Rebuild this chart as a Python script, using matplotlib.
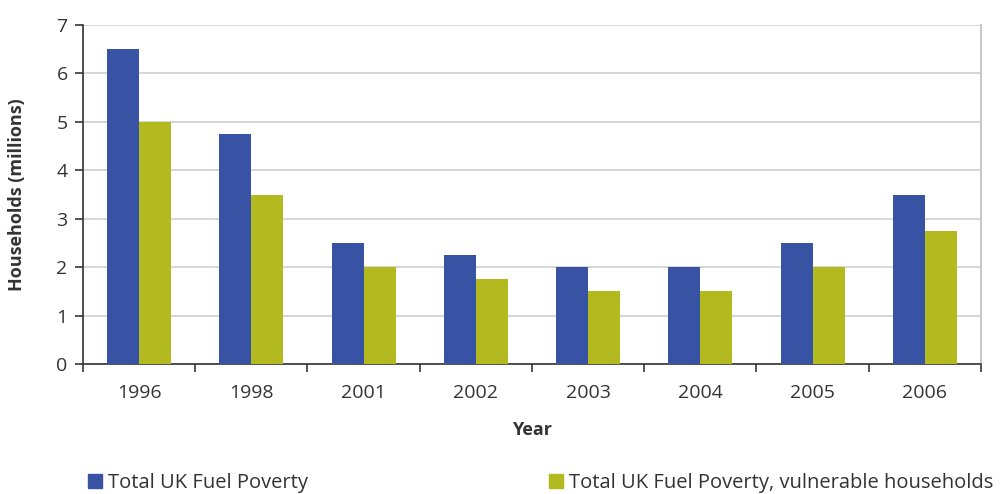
import numpy as np
import matplotlib
matplotlib.use('Agg')
import matplotlib.pyplot as plt
from matplotlib.patches import Patch

plt.rcParams['font.family'] = ['Open Sans', 'DejaVu Sans']

# Data
years = ['1996', '1998', '2001', '2002', '2003', '2004', '2005', '2006']
total = [6.5, 4.75, 2.5, 2.25, 2.0, 2.0, 2.5, 3.5]
vulnerable = [5.0, 3.5, 2.0, 1.75, 1.5, 1.5, 2.0, 2.75]

blue = '#3953A4'
green = '#B3BA20'

fig = plt.figure(figsize=(10.08, 4.94), dpi=100)
ax = fig.add_axes([0.0823, 0.263, 0.8909, 0.6864])

x = np.arange(len(years))
w = 0.285
ax.bar(x - w / 2, total, w, color=blue, zorder=3)
ax.bar(x + w / 2, vulnerable, w, color=green, zorder=3)

ax.set_xlim(-0.5, len(years) - 0.5)
ax.set_ylim(0, 7)
ax.set_yticks(range(8))
ax.yaxis.grid(True, color='#D0D0D0', linewidth=1.2, zorder=0)

# x ticks sit on the category boundaries, labels in the middle
ax.set_xticks(np.arange(len(years) + 1) - 0.5)
ax.set_xticklabels([])
ax.set_xticks(x, minor=True)
ax.set_xticklabels(years, minor=True)
ax.tick_params(axis='x', which='major', direction='out', length=6, width=1.2, color='#333333')
ax.tick_params(axis='x', which='minor', length=0, pad=14, labelsize=14, labelcolor='#333333')
ax.tick_params(axis='y', direction='out', length=6, width=1.2, color='#333333',
               labelsize=14, labelcolor='#333333', pad=5)

for s in ['left', 'bottom']:
    ax.spines[s].set_color('#333333')
    ax.spines[s].set_linewidth(1.2)
ax.spines['top'].set_visible(False)
ax.spines['right'].set_color('#C8C8C8')
ax.spines['right'].set_linewidth(1.5)

ax.set_ylabel('Households (millions)', fontsize=13, fontweight='bold', color='#333333', labelpad=22)
ax.set_xlabel('Year', fontsize=13, fontweight='bold', color='#333333', labelpad=14)

leg_kw = dict(loc='lower left', frameon=False, fontsize=14.5, handlelength=0.7,
              handleheight=0.7, handletextpad=0.3, labelcolor='#333333')
fig.legend(handles=[Patch(color=blue, label='Total UK Fuel Poverty')],
           bbox_to_anchor=(0.069, -0.035), **leg_kw)
fig.legend(handles=[Patch(color=green, label='Total UK Fuel Poverty, vulnerable households')],
           bbox_to_anchor=(0.527, -0.035), **leg_kw)

fig.savefig('out.png', dpi=100)
